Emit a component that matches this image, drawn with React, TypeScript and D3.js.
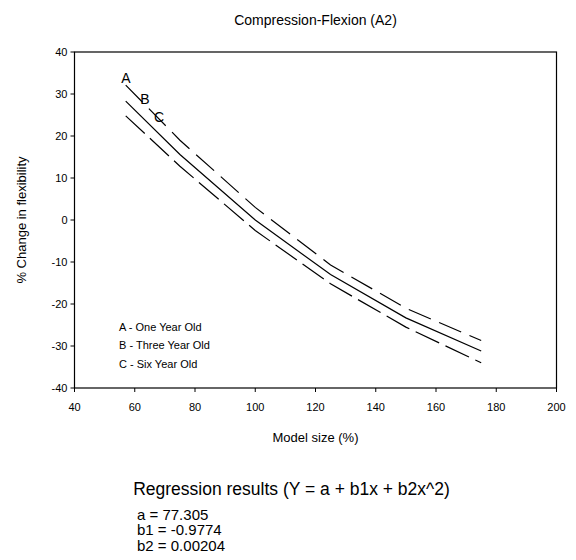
import React from "react";
import * as d3 from "d3";

const modelSize = [57, 75, 100, 125, 150, 175];
const oneYear = [32.1, 19.0, 3.0, -10.7, -21.0, -28.7];
const threeYear = [28.3, 15.6, 0.0, -13.0, -23.3, -31.2];
const sixYear = [24.8, 12.8, -2.5, -15.2, -25.5, -34.0];
const xTicks = [40, 60, 80, 100, 120, 140, 160, 180, 200];
const yTicks = [-40, -30, -20, -10, 0, 10, 20, 30, 40];
const legendLines = ["A - One Year Old", "B - Three Year Old", "C - Six Year Old"];
const regressionLines = ["a = 77.305", "b1 = -0.9774", "b2 = 0.00204"];

const FONT = "'Liberation Sans', Arial, Helvetica, sans-serif";

export default function App() {
  const x = d3.scaleLinear().domain([40, 200]).range([74.5, 556.5]);
  const y = d3.scaleLinear().domain([-40, 40]).range([388, 52]);
  const line = d3
    .line<number>()
    .x((_, i) => x(modelSize[i]))
    .y((d) => y(d));

  const series = [
    { data: oneYear, dash: "24 9" },
    { data: threeYear, dash: undefined },
    { data: sixYear, dash: "26 7" },
  ];

  return (
    <svg
      width={576}
      height={560}
      style={{ position: "absolute", left: 0, top: 0, background: "#fff" }}
      fontFamily={FONT}
    >
      <rect width={576} height={560} fill="#fff" />
      <text x={315.5} y={25} textAnchor="middle" fontSize={14} fill="#000">
        Compression-Flexion (A2)
      </text>

      {/* frame */}
      <rect
        x={x(40)}
        y={y(40)}
        width={x(200) - x(40)}
        height={y(-40) - y(40)}
        fill="none"
        stroke="#000"
        strokeWidth={1.2}
      />

      {/* y axis ticks */}
      {yTicks.map((t) => (
        <g key={"y" + t}>
          <line x1={x(40) - 4} x2={x(40)} y1={y(t)} y2={y(t)} stroke="#000" strokeWidth={1} />
          <text x={x(40) - 7} y={y(t)} dy="0.35em" textAnchor="end" fontSize={11} fill="#000">
            {t}
          </text>
        </g>
      ))}

      {/* x axis ticks */}
      {xTicks.map((t) => (
        <g key={"x" + t}>
          <line x1={x(t)} x2={x(t)} y1={y(-40)} y2={y(-40) + 4} stroke="#000" strokeWidth={1} />
          <text x={x(t)} y={y(-40) + 23} textAnchor="middle" fontSize={11} fill="#000">
            {t}
          </text>
        </g>
      ))}

      <text
        transform={`translate(26,${y(0)}) rotate(-90)`}
        textAnchor="middle"
        fontSize={13}
        fill="#000"
      >
        % Change in flexibility
      </text>
      <text x={315.5} y={442} textAnchor="middle" fontSize={13} fill="#000">
        Model size (%)
      </text>

      {/* curves */}
      {series.map((s, i) => (
        <path
          key={i}
          d={line(s.data) || ""}
          fill="none"
          stroke="#000"
          strokeWidth={1.2}
          strokeDasharray={s.dash}
        />
      ))}

      {/* curve labels */}
      <text x={126} y={83} textAnchor="middle" fontSize={14} fill="#000">A</text>
      <text x={145} y={104} textAnchor="middle" fontSize={14} fill="#000">B</text>
      <text x={159} y={122} textAnchor="middle" fontSize={14} fill="#000">C</text>

      {/* legend */}
      {legendLines.map((l, i) => (
        <text key={l} x={119} y={330.5 + i * 18.7} fontSize={11} fill="#000">
          {l}
        </text>
      ))}

      {/* regression text */}
      <text x={291.5} y={495} textAnchor="middle" fontSize={17.5} fill="#000">
        Regression results (Y = a + b1x + b2x^2)
      </text>
      {regressionLines.map((l, i) => (
        <text key={l} x={137} y={519.5 + i * 15.8} fontSize={15} fill="#000">
          {l}
        </text>
      ))}
    </svg>
  );
}
